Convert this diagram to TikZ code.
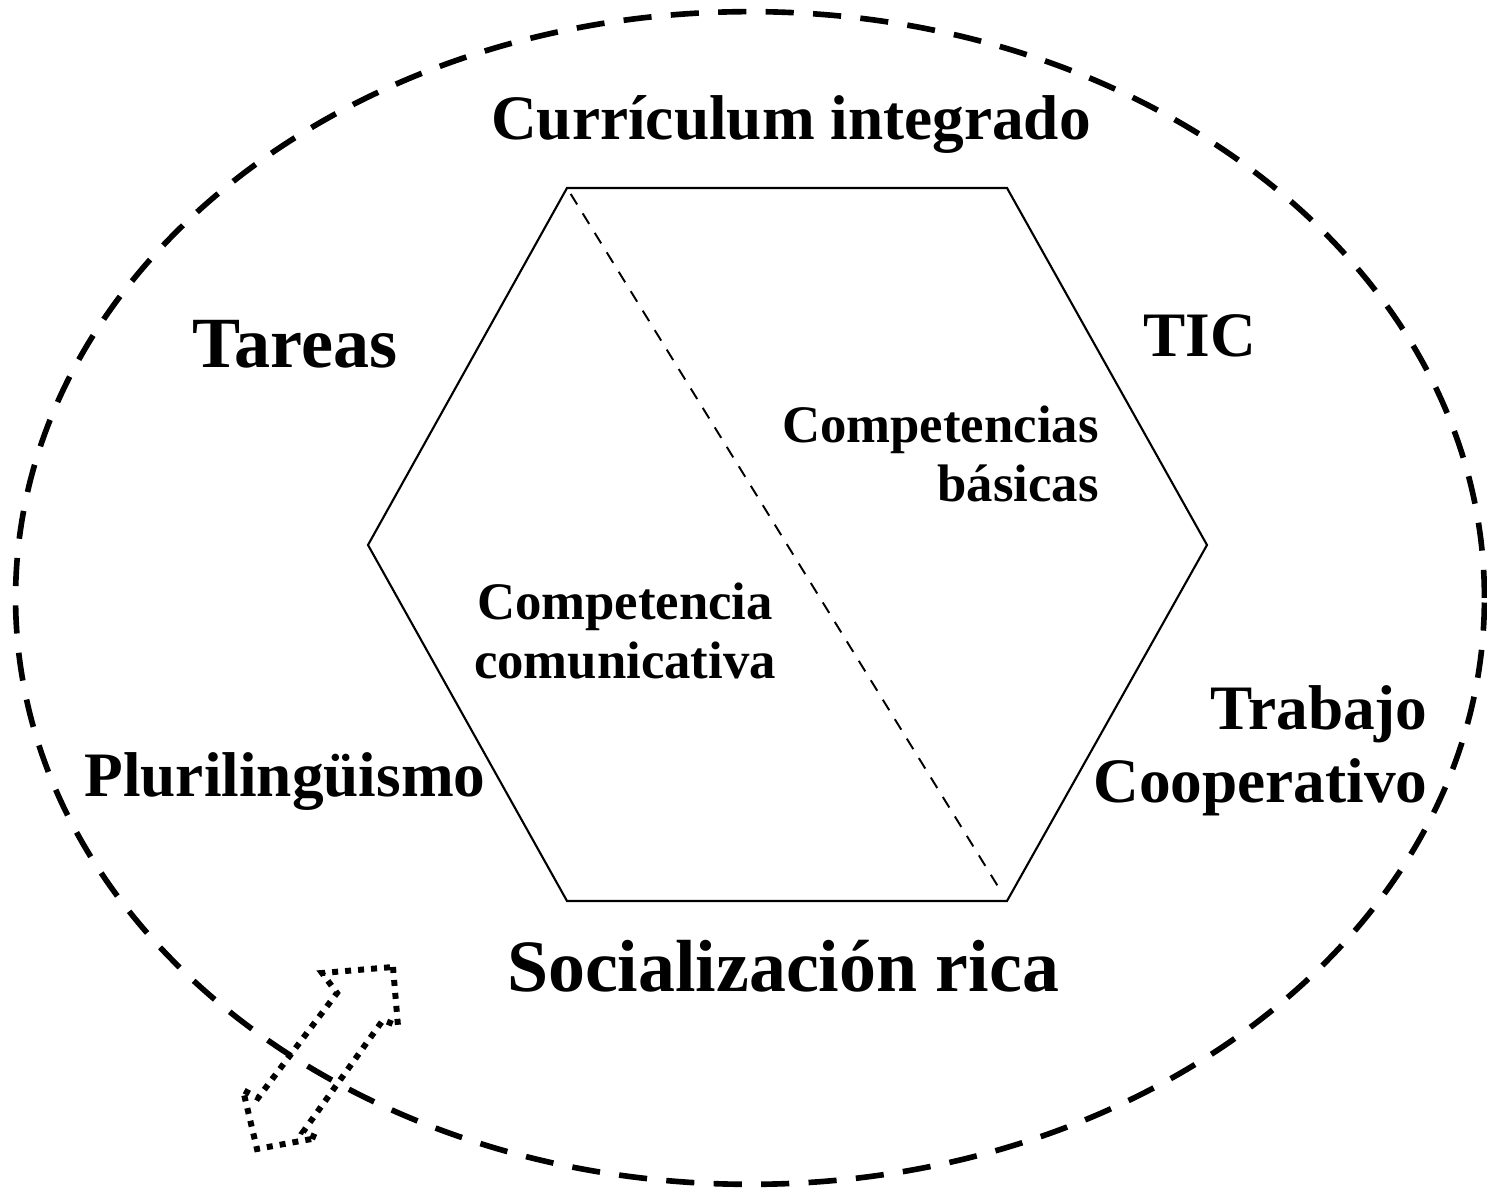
\documentclass[tikz,border=0pt]{standalone}
\usepackage{fontspec}
\setmainfont{Liberation Serif}
\begin{document}
\begin{tikzpicture}[x=0.01cm,y=-0.01cm,
  biglbl/.style={font=\bfseries\fontsize{18}{20}\selectfont,anchor=base},
  smalllbl/.style={font=\bfseries\fontsize{15}{17}\selectfont,anchor=base}]
\useasboundingbox (0,0) rectangle (1487,1189);
% outer ring
\draw[line width=1.6pt,dash pattern=on 8pt off 5.5pt] (750,598) ellipse [x radius=7.34cm,y radius=5.86cm];
% hexagon
\coordinate (h1) at (567,188);
\coordinate (h2) at (1007,188);
\coordinate (h3) at (1207,545);
\coordinate (h4) at (1007,901);
\coordinate (h5) at (567,901);
\coordinate (h6) at (368,545);
\draw[line width=0.6pt] (h1) -- (h2) -- (h3) -- (h4) -- (h5) -- (h6) -- cycle;
\draw[line width=0.55pt,dash pattern=on 3.5pt off 3pt,shorten <=2pt,shorten >=4.5pt] (h1) -- (h4);
% labels
\node[biglbl] (curr) at (791,140) {Currículum integrado};
\node[biglbl,font=\bfseries\fontsize{20.5}{22}\selectfont] (tareas) at (295,368) {Tareas};
\node[biglbl] (tic) at (1200,357) {TIC};
\node[biglbl] (pluri) at (285,797) {Plurilingüismo};
\node[biglbl,anchor=base east,align=right,font=\bfseries\fontsize{18}{20.8}\selectfont] (trab) at (1440,803) {Trabajo\\Cooperativo};
\node[biglbl,font=\bfseries\fontsize{21}{23}\selectfont] (social) at (783,992) {Socialización rica};
\node[smalllbl,anchor=base east,align=right] (basicas) at (1111,502) {Competencias\\básicas};
\node[smalllbl,align=center] (comun) at (625,679) {Competencia\\comunicativa};
% double arrow
\draw[line width=1.7pt,dotted] (393,967) -- (398,1026) -- (383,1020) -- (303,1132) -- (317,1138)
  -- (257,1149) -- (243,1090) -- (258,1098) -- (337,993) -- (322,973) -- cycle;
\end{tikzpicture}
\end{document}
